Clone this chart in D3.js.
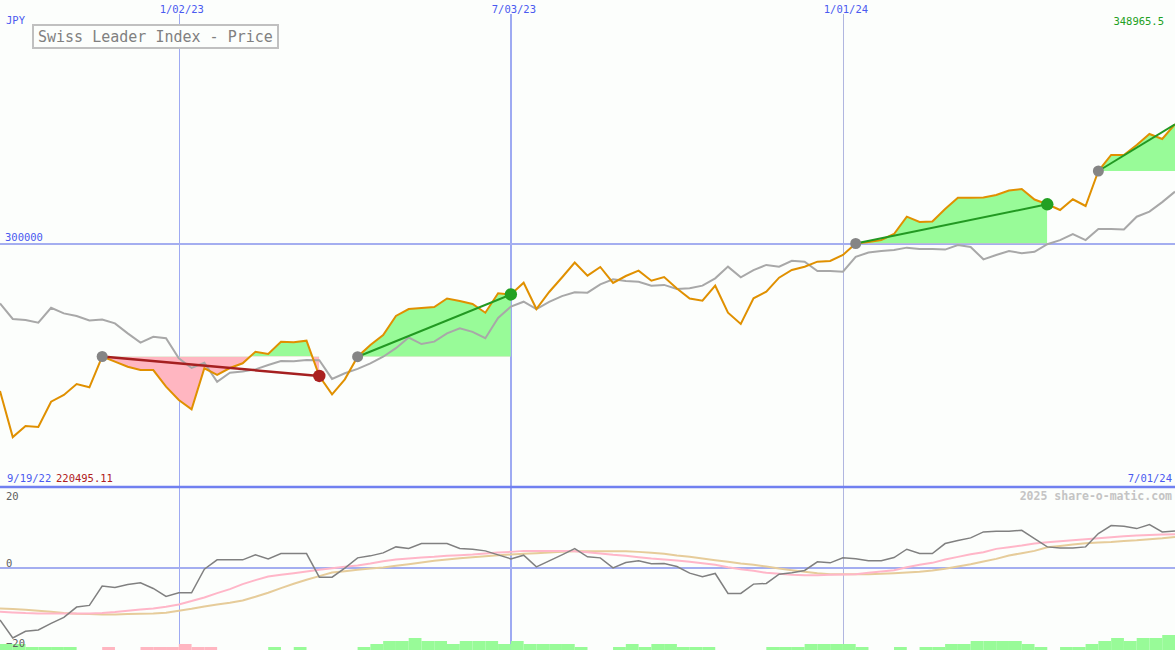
<!DOCTYPE html>
<html><head><meta charset="utf-8">
<script src="https://cdn.jsdelivr.net/npm/d3@7"></script>
<style>
body{margin:0;background:#fcfefc;}
svg{display:block;font-family:'DejaVu Sans Mono',monospace;}
</style>
</head><body>
<svg id="chart" width="1175" height="650"></svg>
<script>
// ---------- data ----------
const startDate = "2022-09-26";
const titleText = "Swiss Leader Index - Price";
const currency = "JPY";
const firstLabel = "9/19/22";
const lastLabel = "7/01/24";
const minLabel = "220495.11";
const lastValueLabel = "348965.5";
const credit = "2025 share-o-matic.com";

const price = [
 239430, 220495.11, 225050, 224640, 235030, 237780, 242300, 240940, 253590, 251460,
 249400, 248050, 248000, 241190, 235730, 231910, 248750, 246000, 248870, 250800,
 255560, 254620, 259670, 259430, 260080, 245590, 238070, 244230, 253510, 258320,
 262420, 270230, 273100, 273510, 273920, 277410, 276390, 275150, 271580, 279550,
 279060, 283900, 273100, 280080, 286040, 292200, 286780, 290350, 283780, 286650,
 288830, 284720, 286240, 281520, 277410, 276510, 282670, 271580, 266940, 277500,
 280200, 285960, 289120, 290470, 292530, 292810, 295280, 300000, 300620, 301440,
 303900, 311010, 308830, 309040, 314170, 318810, 318800, 318850, 319920, 321770,
 322380, 318070, 316100, 313760, 318150, 315400, 329770, 336350, 336350, 340450,
 344970, 342920, 348965.5
];
const compare = [
 275400, 269000, 268600, 267500, 273600, 271300, 270200, 268400, 268800, 267200,
 263100, 259300, 261700, 261100, 252850, 248900, 251000, 243200, 246900, 247400,
 248300, 250100, 251700, 251600, 252200, 252100, 244400, 246700, 248500, 250800,
 253500, 257000, 261400, 258700, 259700, 263100, 265200, 263700, 261100, 269400,
 274100, 276100, 273100, 276000, 278400, 280000, 279800, 283200, 285300, 284600,
 284300, 282700, 283000, 281300, 281600, 282700, 285700, 290500, 286100, 289100,
 291200, 290500, 292900, 292500, 288700, 288700, 288400, 294500, 296300, 296900,
 297300, 298300, 297700, 297700, 297500, 299400, 298600, 293500, 295300, 296900,
 296000, 296600, 299700, 301400, 303900, 301400, 306000, 306000, 305800, 311000,
 313100, 317000, 321300
];
const oscillator = [
 -15.8, -21.2, -19.2, -18.8, -16.8, -15.0, -11.9, -11.4, -5.6, -6.0,
 -5.1, -4.6, -6.3, -8.7, -7.6, -7.6, -0.5, 2.3, 2.3, 2.3,
 3.8, 2.6, 4.2, 4.2, 4.2, -2.9, -2.9, -0.2, 2.9, 3.5,
 4.4, 6.2, 5.7, 7.2, 7.2, 7.2, 5.7, 5.5, 5.0, 3.8,
 2.6, 3.7, 0.2, 2.0, 3.8, 5.7, 3.2, 2.9, -0.1, 1.5,
 2.0, 1.1, 1.2, 0.3, -1.7, -2.8, -1.8, -7.8, -7.8, -5.0,
 -4.8, -2.0, -1.6, -0.9, 1.7, 1.4, 2.9, 2.6, 2.0, 2.0,
 3.0, 5.5, 4.2, 4.2, 7.2, 8.1, 8.9, 10.7, 10.9, 10.9,
 11.2, 8.7, 6.2, 5.9, 5.9, 6.2, 10.2, 12.6, 12.4, 11.7,
 12.9, 10.7, 11.0
];
const oscFast = [
 -13.3, -13.5, -13.7, -13.8, -13.8, -13.8, -13.8, -13.8, -13.7, -13.4,
 -13.0, -12.6, -12.3, -11.8, -11.1, -10.1, -9.0, -7.7, -6.5, -5.0,
 -3.8, -2.7, -2.2, -1.7, -1.2, -0.7, -0.2, 0.2, 0.6, 1.2,
 1.9, 2.4, 2.7, 3.0, 3.2, 3.5, 3.7, 3.9, 4.2, 4.5,
 4.7, 5.0, 5.0, 5.0, 5.0, 4.9, 4.6, 4.2, 3.8, 3.5,
 3.1, 2.7, 2.4, 2.1, 1.7, 1.3, 0.8, 0.1, -0.5, -1.0,
 -1.6, -1.9, -2.2, -2.3, -2.3, -2.2, -2.1, -2.0, -1.6, -1.2,
 -0.8, 0.1, 0.8, 1.4, 2.4, 3.2, 4.0, 4.6, 5.6, 6.1,
 6.6, 7.2, 7.6, 7.9, 8.2, 8.5, 8.8, 9.1, 9.4, 9.6,
 9.8, 9.9, 10.0
];
const oscSlow = [
 -12.3, -12.5, -12.7, -13.0, -13.3, -13.7, -13.9, -14.0, -14.1, -14.1,
 -14.0, -13.9, -13.8, -13.6, -13.0, -12.4, -11.7, -11.1, -10.6, -9.9,
 -8.8, -7.6, -6.2, -4.9, -3.7, -2.6, -1.5, -1.1, -0.7, -0.3,
 0.0, 0.5, 1.0, 1.5, 2.0, 2.4, 2.8, 3.1, 3.4, 3.7,
 3.9, 4.1, 4.3, 4.5, 4.7, 4.9, 4.9, 4.9, 4.9, 4.9,
 4.7, 4.4, 4.1, 3.6, 3.2, 2.7, 2.2, 1.7, 1.2, 0.8,
 0.3, -0.3, -0.8, -1.3, -1.7, -2.0, -2.0, -2.0, -2.0, -1.9,
 -1.7, -1.5, -1.3, -0.9, -0.4, 0.3, 1.0, 1.8, 2.6, 3.6,
 4.3, 5.0, 6.1, 6.5, 6.9, 7.3, 7.5, 7.7, 8.0, 8.2,
 8.5, 8.8, 9.2
];
// weekly bar levels (positive = green, negative = pink)
const volumeBars = [
 2, 2, 1, 1, 1, 1, 0, 0, -1, 0,
 0, -1, -1, -1, -2, -1, -1, 0, 0, 0,
 0, 1, 0, 1, 0, 0, 0, 0, 1, 2,
 3, 3, 4, 3, 3, 2, 3, 3, 3, 2,
 3, 2, 2, 2, 2, 1, 0, 0, 1, 2,
 1, 2, 2, 1, 1, 1, 0, 0, 0, 0,
 1, 1, 1, 2, 2, 2, 2, 1, 0, 0,
 1, 0, 1, 1, 2, 2, 3, 3, 3, 3,
 2, 1, 0, 1, 1, 2, 3, 4, 3, 4,
 4, 5
];
const tradeEntries = [8, 28, 67, 86];
const tradeExits = [25, 40, 82, null];

const dateTicks = ["2023-01-02", "2023-07-03", "2024-01-01"];
const dateTickLabels = ["1/02/23", "7/03/23", "1/01/24"];
const priceTicks = [300000];
const oscTicks = [20, 0, -20];

// ---------- layout ----------
const W = 1175, H = 650;
const mainBottom = 487;
const svg = d3.select("#chart");
const parse = d3.utcParse("%Y-%m-%d");
const first = parse(startDate);
const dates = price.map((_, i) => d3.utcDay.offset(first, 7 * i));

const x = d3.scaleUtc().domain([dates[0], dates[dates.length - 1]]).range([0, W]);
const y = d3.scaleLinear().domain([200000, 400000]).range([mainBottom, 0]);
const yo = d3.scaleLinear().domain([-20, 20]).range([634, 501]);
const hb = d3.scaleLinear().domain([0, 5]).range([0, 15]);

svg.append("rect").attr("width", W).attr("height", H).attr("fill", "#fcfefc");

const defs = svg.append("defs");
defs.append("clipPath").attr("id", "clipMain").append("rect")
  .attr("x", 0).attr("y", 0).attr("width", W).attr("height", mainBottom);
defs.append("clipPath").attr("id", "clipLow").append("rect")
  .attr("x", 0).attr("y", mainBottom + 1).attr("width", W).attr("height", H - mainBottom - 1);

// ---------- grid ----------
const grid = svg.append("g").attr("shape-rendering", "crispEdges");
dateTicks.forEach((d, i) => {
  const xx = Math.round(x(parse(d))) + (i === 1 ? 0 : 0.5);
  grid.append("line").attr("x1", xx).attr("x2", xx).attr("y1", 14).attr("y2", H)
    .attr("stroke", i === 2 ? "#b0b6e0" : "#9eaaf2").attr("stroke-width", i === 1 ? 2 : 1);
});
priceTicks.forEach(v => {
  grid.append("line").attr("x1", 0).attr("x2", W).attr("y1", Math.round(y(v))).attr("y2", Math.round(y(v)))
    .attr("stroke", "#a4aef0").attr("stroke-width", 2);
});
grid.append("line").attr("x1", 0).attr("x2", W).attr("y1", Math.round(yo(0))).attr("y2", Math.round(yo(0)))
  .attr("stroke", "#a4aef0").attr("stroke-width", 2);

// ---------- trade fills ----------
const fills = svg.append("g").attr("clip-path", "url(#clipMain)");
tradeEntries.forEach((e, t) => {
  const ex = tradeExits[t] === null ? price.length - 1 : tradeExits[t];
  const idx = d3.range(e, ex + 1);
  const ey = y(price[e]);
  const x0 = x(dates[e]), x1 = x(dates[ex]);
  defs.append("clipPath").attr("id", "up" + t).append("rect")
    .attr("x", x0).attr("y", 0).attr("width", x1 - x0).attr("height", ey);
  defs.append("clipPath").attr("id", "dn" + t).append("rect")
    .attr("x", x0).attr("y", ey).attr("width", x1 - x0).attr("height", mainBottom - ey);
  const area = d3.area().x(i => x(dates[i])).y0(ey).y1(i => y(price[i]));
  fills.append("path").datum(idx).attr("d", area).attr("fill", "#98fb98").attr("clip-path", `url(#up${t})`);
  fills.append("path").datum(idx).attr("d", area).attr("fill", "#ffb6c1").attr("clip-path", `url(#dn${t})`);
});

// ---------- main lines ----------
const main = svg.append("g").attr("clip-path", "url(#clipMain)");
const lineOf = arr => d3.line().x((d, i) => x(dates[i])).y(d => y(d));
main.append("path").datum(compare).attr("d", lineOf(compare))
  .attr("fill", "none").attr("stroke", "#a8a8a8").attr("stroke-width", 2);
main.append("path").datum(price).attr("d", lineOf(price))
  .attr("fill", "none").attr("stroke", "#e09000").attr("stroke-width", 2);

// trade lines and markers
tradeEntries.forEach((e, t) => {
  const open = tradeExits[t] === null;
  const ex = open ? price.length - 1 : tradeExits[t];
  const win = price[ex] >= price[e];
  main.append("line")
    .attr("x1", x(dates[e])).attr("y1", y(price[e]))
    .attr("x2", x(dates[ex])).attr("y2", y(price[ex]))
    .attr("stroke", win ? "#229922" : "#a52020").attr("stroke-width", win ? 2 : 2.5);
});
tradeEntries.forEach((e, t) => {
  const open = tradeExits[t] === null;
  const ex = open ? price.length - 1 : tradeExits[t];
  const win = price[ex] >= price[e];
  main.append("circle").attr("cx", x(dates[e])).attr("cy", y(price[e])).attr("r", 5.5)
    .attr("fill", "#858585");
  if (!open) {
    main.append("circle").attr("cx", x(dates[ex])).attr("cy", y(price[ex])).attr("r", 6.2)
      .attr("fill", win ? "#22a022" : "#aa2020");
  }
});

// ---------- lower panel ----------
const low = svg.append("g").attr("clip-path", "url(#clipLow)");
low.selectAll("rect.bar").data(volumeBars).join("rect")
  .attr("x", (d, i) => x(dates[i]))
  .attr("width", (d, i) => x(dates[i + 1]) - x(dates[i]))
  .attr("y", d => H - hb(Math.abs(d)))
  .attr("height", d => hb(Math.abs(d)))
  .attr("fill", d => d >= 0 ? "#98fb98" : "#ffb6c1");
const oLine = d3.line().x((d, i) => x(dates[i])).y(d => yo(d));
low.append("path").datum(oscSlow).attr("d", oLine).attr("fill", "none")
  .attr("stroke", "#e6cc9a").attr("stroke-width", 2);
low.append("path").datum(oscFast).attr("d", oLine).attr("fill", "none")
  .attr("stroke", "#ffb6c8").attr("stroke-width", 2);
low.append("path").datum(oscillator).attr("d", oLine).attr("fill", "none")
  .attr("stroke", "#808080").attr("stroke-width", 1.5);

// separator
svg.append("line").attr("x1", 0).attr("x2", W).attr("y1", mainBottom).attr("y2", mainBottom)
  .attr("stroke", "#7080f0").attr("stroke-width", 2.5);

// ---------- texts ----------
const txt = svg.append("g").attr("font-size", 10.5);
dateTicks.forEach((d, i) => {
  txt.append("text").attr("x", x(parse(d)) + 3).attr("y", 13).attr("text-anchor", "middle")
    .attr("fill", "#4a5af0").text(dateTickLabels[i]);
});
txt.append("text").attr("x", 6).attr("y", 24).attr("fill", "#4a5af0").text(currency);
txt.append("text").attr("x", 1164).attr("y", 25).attr("text-anchor", "end").attr("fill", "#22a022").text(lastValueLabel);
priceTicks.forEach(v => {
  txt.append("text").attr("x", 5).attr("y", y(v) - 3).attr("fill", "#4a5af0").text(d3.format("d")(v));
});
txt.append("text").attr("x", 7).attr("y", 482).attr("fill", "#4a5af0").text(firstLabel);
txt.append("text").attr("x", 56).attr("y", 482).attr("fill", "#b02020").text(minLabel);
txt.append("text").attr("x", 1172).attr("y", 482).attr("text-anchor", "end").attr("fill", "#4a5af0").text(lastLabel);
txt.append("text").attr("x", 1172).attr("y", 500).attr("text-anchor", "end")
  .attr("fill", "#c4c4c4").attr("font-weight", "bold").attr("font-size", 11.5).text(credit);
oscTicks.forEach(v => {
  const yy = v < 0 ? Math.min(yo(v) + 13, H - 3) : yo(v) - 1;
  txt.append("text").attr("x", 6).attr("y", yy).attr("fill", "#606060").text(d3.format("d")(v));
});

// title box
svg.append("rect").attr("x", 33).attr("y", 25).attr("width", 245).attr("height", 23)
  .attr("fill", "#fcfefc").attr("stroke", "#c0c0c0").attr("stroke-width", 2);
svg.append("text").attr("x", 38).attr("y", 42).attr("font-size", 15).attr("fill", "#808080")
  .text(titleText);
</script>
</body></html>
